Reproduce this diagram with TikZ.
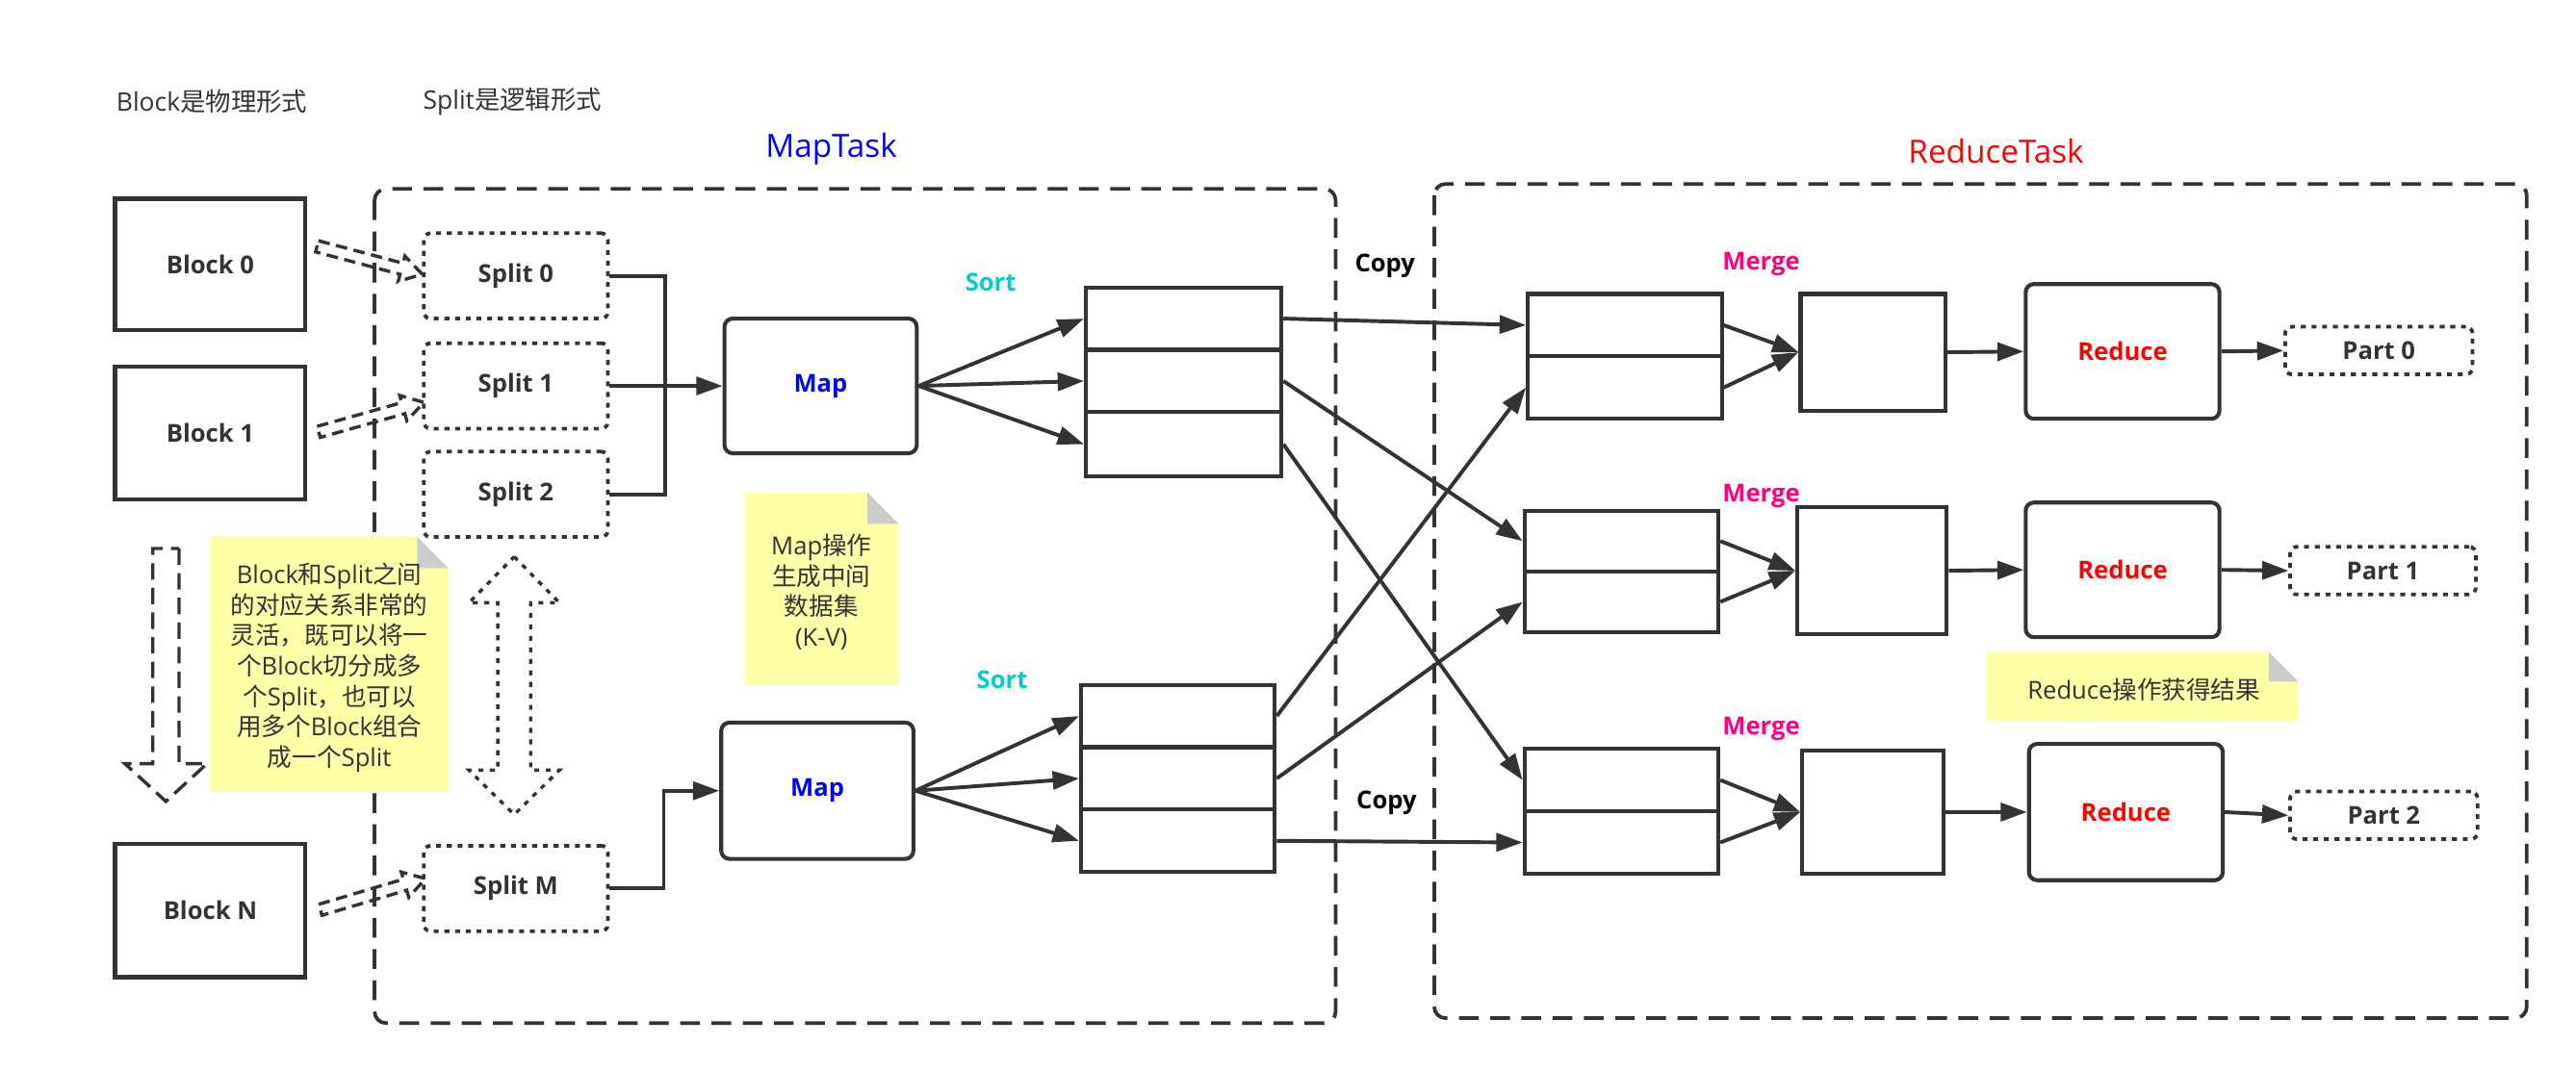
\documentclass[tikz,border=0pt]{standalone}
\usepackage{fontspec}
\setmainfont{Open Sans}
\newfontfamily\cjk{Noto Sans CJK SC}
\usetikzlibrary{arrows.meta,calc}
\definecolor{ln}{HTML}{333333}
\definecolor{noteY}{HTML}{FFFFA8}
\definecolor{foldG}{HTML}{CCCCCC}
\definecolor{sortC}{HTML}{00CCCC}
\definecolor{mergeP}{HTML}{FF0080}
\definecolor{mapB}{HTML}{0000FF}
\definecolor{redR}{HTML}{FF0000}
\newcommand{\hollowarrow}[6]{%
  \coordinate (hacA) at ($(#2)!#5!(#1)$);
  \draw[#6] ($(#1)!#3!90:(#2)$) -- ($(hacA)!#3!-90:(#1)$) -- ($(hacA)!#4!-90:(#1)$) -- (#2) -- ($(hacA)!#4!90:(#1)$) -- ($(hacA)!#3!90:(#1)$) -- ($(#1)!#3!-90:(#2)$) -- cycle;}
\begin{document}
\begin{tikzpicture}[x=1pt,y=-1pt,
  lbl/.style={font=\fontsize{15}{18}\selectfont\bfseries, text=ln},
  sqbox/.style={draw=ln, line width=2.4pt, fill=white, inner sep=0pt, lbl},
  rbox/.style={sqbox, rounded corners=5pt},
  dotbox/.style={draw=ln, line width=2.2pt, dash pattern=on 3pt off 3.5pt, rounded corners=4pt, inner sep=0pt, lbl},
  conn/.style={draw=ln, line width=2.3pt, -{Triangle[length=16pt,width=11pt]}},
  plainln/.style={draw=ln, line width=2.3pt},
  captxt/.style={font=\fontsize{15.5}{18}\selectfont, text=ln, inner sep=0pt},
  tasklbl/.style={font=\fontsize{19.5}{23}\selectfont, inner sep=0pt},
  notetxt/.style={font=\fontsize{15}{18.6}\selectfont, text=ln, align=center, inner sep=0pt},
  framebox/.style={draw=ln, line width=2.2pt, dash pattern=on 12pt off 7pt, rounded corners=7pt},
  dsharr/.style={draw=ln, line width=2pt, dash pattern=on 7pt off 4pt, line join=miter},
  bigdsh/.style={draw=ln, line width=2pt, dash pattern=on 10pt off 5pt, line join=miter},
  dotarr/.style={draw=ln, line width=2pt, dash pattern=on 3pt off 4pt, line join=miter},
  tagtxt/.style={font=\fontsize{15}{18}\selectfont\bfseries, inner sep=0pt}
]
\useasboundingbox (0,0) rectangle (1568,652);

% captions
\node[captxt] (capB) at (129,62) {Block{\cjk 是物理形式}};
\node[captxt] (capS) at (312,62) {Split{\cjk 是逻辑形式}};
\node[tasklbl, text=mapB] (mtl) at (506,91) {MapTask};
\node[tasklbl, text=redR] (rtl) at (1215,92) {ReduceTask};

% frames
\draw[framebox] (228,115) rectangle (813,623);
\draw[framebox] (873,112) rectangle (1538,620);

% notes
\fill[noteY] (128,327) -- (254,327) -- (273,346) -- (273,482) -- (128,482) -- cycle;
\fill[foldG] (254,327) -- (273,346) -- (254,346) -- cycle;
\node[notetxt] (n1) at (200.5,406.5) {Block{\cjk 和}Split{\cjk 之间}\\{\cjk 的对应关系非常的}\\{\cjk 灵活，既可以将一}\\{\cjk 个}Block{\cjk 切分成多}\\{\cjk 个}Split{\cjk ，也可以}\\{\cjk 用多个}Block{\cjk 组合}\\{\cjk 成一个}Split};

\fill[noteY] (453,300) -- (528,300) -- (547,319) -- (547,417) -- (453,417) -- cycle;
\fill[foldG] (528,300) -- (547,319) -- (528,319) -- cycle;
\node[notetxt] (n2) at (500,360.5) {Map{\cjk 操作}\\{\cjk 生成中间}\\{\cjk 数据集}\\(K-V)};

\fill[noteY] (1209,397) -- (1381,397) -- (1399,415) -- (1399,439) -- (1209,439) -- cycle;
\fill[foldG] (1381,397) -- (1399,415) -- (1381,415) -- cycle;
\node[notetxt] (n3) at (1305,420) {Reduce{\cjk 操作获得结果}};

% blocks
\node[sqbox, minimum width=116pt, minimum height=80pt] (b0) at (128,161) {Block 0};
\node[sqbox, minimum width=116pt, minimum height=81pt] (b1) at (128,263.5) {Block 1};
\node[sqbox, minimum width=116pt, minimum height=81pt] (bN) at (128,554.5) {Block N};

% splits
\node[dotbox, minimum width=112pt, minimum height=52pt] (sp0) at (314,168) {Split 0};
\node[dotbox, minimum width=112pt, minimum height=52pt] (sp1) at (314,235) {Split 1};
\node[dotbox, minimum width=112pt, minimum height=52pt] (sp2) at (314,301) {Split 2};
\node[dotbox, minimum width=112pt, minimum height=52pt] (spM) at (314,541) {Split M};

% hollow arrows blocks -> splits
\coordinate (t0) at (193,150); \coordinate (h0) at (257,167);
\coordinate (t1) at (194,263); \coordinate (h1) at (258,245);
\coordinate (tN) at (195,554); \coordinate (hN) at (259,535);
\hollowarrow{t0}{h0}{3.5pt}{8pt}{13pt}{dsharr}
\hollowarrow{t1}{h1}{3.5pt}{8pt}{13pt}{dsharr}
\hollowarrow{tN}{hN}{3.5pt}{8pt}{13pt}{dsharr}

% vertical dashed arrow
\coordinate (vt) at (101,334); \coordinate (vh) at (101,488);
\hollowarrow{vt}{vh}{8pt}{25pt}{23pt}{bigdsh}

% double dotted arrow
\coordinate (dtop) at (313,339); \coordinate (dbot) at (313,496);
\draw[dotarr] (dtop) -- (340.5,367) -- (323,367) -- (323,469) -- (340.5,469) -- (dbot) -- (285.5,469) -- (303,469) -- (303,367) -- (285.5,367) -- cycle;

% maps
\node[rbox, minimum width=117pt, minimum height=82pt, text=mapB] (map0) at (499.5,235) {Map};
\node[rbox, minimum width=117pt, minimum height=83pt, text=mapB] (map1) at (497.5,481.5) {Map};

% split -> map
\coordinate (j0) at (405,235);
\coordinate (j1) at (404,481.5);
\draw[plainln] (sp0.east) -| (j0);
\draw[plainln] (sp2.east) -| (j0);
\draw[conn] (sp1.east) -- (map0.west);
\draw[conn] (spM.east) -| (j1) -- (map1.west);

% sort stacks
\node[sqbox, minimum width=119pt, minimum height=38pt] (s0a) at (720.5,194) {};
\node[sqbox, minimum width=119pt, minimum height=38pt] (s0b) at (720.5,232) {};
\node[sqbox, minimum width=119pt, minimum height=39pt] (s0c) at (720.5,270.5) {};
\node[sqbox, minimum width=118pt, minimum height=38pt] (s1a) at (717,436) {};
\node[sqbox, minimum width=118pt, minimum height=38pt] (s1b) at (717,474) {};
\node[sqbox, minimum width=118pt, minimum height=38pt] (s1c) at (717,512) {};
\node[tagtxt, text=sortC] (sort0) at (603,172) {Sort};
\node[tagtxt, text=sortC] (sort1) at (610,414) {Sort};

\draw[conn] (map0.east) -- (s0a.west);
\draw[conn] (map0.east) -- (s0b.west);
\draw[conn] (map0.east) -- (s0c.west);
\draw[conn] (map1.east) -- (s1a.west);
\draw[conn] (map1.east) -- (s1b.west);
\draw[conn] (map1.east) -- (s1c.west);

% merge stacks
\node[sqbox, minimum width=118pt, minimum height=38pt] (m0a) at (989,198) {};
\node[sqbox, minimum width=118pt, minimum height=38pt] (m0b) at (989,236) {};
\node[sqbox, minimum width=118pt, minimum height=37pt] (m1a) at (987,329.5) {};
\node[sqbox, minimum width=118pt, minimum height=37pt] (m1b) at (987,366.5) {};
\node[sqbox, minimum width=118pt, minimum height=38pt] (m2a) at (987,475) {};
\node[sqbox, minimum width=118pt, minimum height=38pt] (m2b) at (987,513) {};
\node[tagtxt, text=mergeP] (mg0) at (1072,161) {Merge};
\node[tagtxt, text=mergeP] (mg1) at (1072,302) {Merge};
\node[tagtxt, text=mergeP] (mg2) at (1072,444) {Merge};
\node[tagtxt, text=black] (cp0) at (843,162) {Copy};
\node[tagtxt, text=black] (cp1) at (844,489) {Copy};

% copy arrows
\draw[conn] (s0a.east) -- (m0a.west);
\draw[conn] (s0b.east) -- (m1a.west);
\draw[conn] (s0c.east) -- (m2a.west);
\draw[conn] (s1a.east) -- (m0b.west);
\draw[conn] (s1b.east) -- (m1b.west);
\draw[conn] (s1c.east) -- (m2b.west);

% small boxes
\node[sqbox, minimum width=88pt, minimum height=71pt] (k0) at (1140,214.5) {};
\node[sqbox, minimum width=91pt, minimum height=77pt] (k1) at (1139.5,347.5) {};
\node[sqbox, minimum width=86pt, minimum height=75pt] (k2) at (1140,494.5) {};

\draw[conn] (m0a.east) -- (k0.west);
\draw[conn] (m0b.east) -- (k0.west);
\draw[conn] (m1a.east) -- (k1.west);
\draw[conn] (m1b.east) -- (k1.west);
\draw[conn] (m2a.east) -- (k2.west);
\draw[conn] (m2b.east) -- (k2.west);

% reduce
\node[rbox, minimum width=118pt, minimum height=82pt, text=redR] (r0) at (1292,214) {Reduce};
\node[rbox, minimum width=118pt, minimum height=82pt, text=redR] (r1) at (1292,347) {Reduce};
\node[rbox, minimum width=118pt, minimum height=83pt, text=redR] (r2) at (1294,494.5) {Reduce};

\draw[conn] (k0.east) -- (r0.west);
\draw[conn] (k1.east) -- (r1.west);
\draw[conn] (k2.east) -- (r2.west);

% parts
\node[dotbox, minimum width=114pt, minimum height=29pt] (p0) at (1448,213.5) {Part 0};
\node[dotbox, minimum width=113pt, minimum height=29pt] (p1) at (1450.5,347.5) {Part 1};
\node[dotbox, minimum width=114pt, minimum height=29pt] (p2) at (1451,496.5) {Part 2};

\draw[conn] (r0.east) -- (p0.west);
\draw[conn] (r1.east) -- (p1.west);
\draw[conn] (r2.east) -- (p2.west);
\end{tikzpicture}
\end{document}
